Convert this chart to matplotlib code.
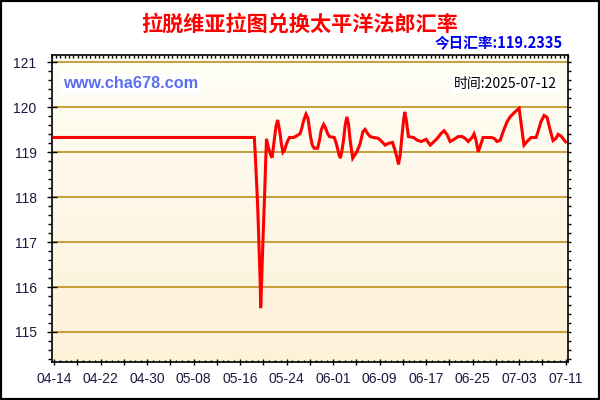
import matplotlib
matplotlib.use("Agg")
import matplotlib.pyplot as plt
import matplotlib.dates as mdates
from matplotlib.ticker import MultipleLocator, NullFormatter, FixedLocator
from matplotlib.patches import Rectangle
import numpy as np
import pandas as pd

title = "拉脱维亚拉图兑换太平洋法郎汇率"
today_label = "今日汇率:119.2335"
date_label = "时间:2025-07-12"
site_label = "www.cha678.com"

times = [
    "2025-04-14 00:00", "2025-05-18 11:00", "2025-05-18 17:00", "2025-05-18 23:00",
    "2025-05-19 03:00", "2025-05-19 07:00", "2025-05-19 11:00", "2025-05-19 13:00",
    "2025-05-19 17:00", "2025-05-19 21:00", "2025-05-20 01:00", "2025-05-20 05:00",
    "2025-05-20 09:00", "2025-05-20 13:00", "2025-05-20 15:00", "2025-05-20 22:00",
    "2025-05-21 05:00", "2025-05-21 12:00", "2025-05-21 16:00", "2025-05-21 22:00",
    "2025-05-22 04:00", "2025-05-22 11:00", "2025-05-22 15:00", "2025-05-22 21:00",
    "2025-05-23 02:00", "2025-05-23 09:00", "2025-05-23 16:00", "2025-05-23 23:00",
    "2025-05-24 06:00", "2025-05-24 12:00", "2025-05-25 05:00", "2025-05-25 19:00",
    "2025-05-26 08:00", "2025-05-26 15:00", "2025-05-26 22:00", "2025-05-27 08:00",
    "2025-05-27 16:00", "2025-05-27 22:00", "2025-05-28 03:00", "2025-05-28 10:00",
    "2025-05-28 18:00", "2025-05-29 08:00", "2025-05-29 16:00", "2025-05-29 23:00",
    "2025-05-30 09:00", "2025-05-30 17:00", "2025-05-31 01:00", "2025-05-31 09:00",
    "2025-06-01 05:00", "2025-06-01 13:00", "2025-06-01 20:00", "2025-06-02 01:00",
    "2025-06-02 06:00", "2025-06-02 12:00", "2025-06-02 19:00", "2025-06-03 02:00",
    "2025-06-03 09:00", "2025-06-03 16:00", "2025-06-03 23:00", "2025-06-04 09:00",
    "2025-06-05 02:00", "2025-06-05 16:00", "2025-06-06 03:00", "2025-06-06 12:00",
    "2025-06-06 22:00", "2025-06-07 09:00", "2025-06-07 23:00", "2025-06-08 19:00",
    "2025-06-09 09:00", "2025-06-09 23:00", "2025-06-10 13:00", "2025-06-11 05:00",
    "2025-06-11 13:00", "2025-06-11 23:00", "2025-06-12 06:00", "2025-06-12 13:00",
    "2025-06-12 20:00", "2025-06-13 03:00", "2025-06-13 08:00", "2025-06-13 14:00",
    "2025-06-13 23:00", "2025-06-14 20:00", "2025-06-15 11:00", "2025-06-16 04:00",
    "2025-06-17 00:00", "2025-06-17 17:00", "2025-06-18 09:00", "2025-06-18 22:00",
    "2025-06-19 14:00", "2025-06-20 02:00", "2025-06-20 15:00", "2025-06-21 03:00",
    "2025-06-21 20:00", "2025-06-22 12:00", "2025-06-23 05:00", "2025-06-23 17:00",
    "2025-06-24 06:00", "2025-06-24 22:00", "2025-06-25 06:00", "2025-06-25 14:00",
    "2025-06-25 23:00", "2025-06-26 07:00", "2025-06-26 19:00", "2025-06-28 04:00",
    "2025-06-28 17:00", "2025-06-29 05:00", "2025-06-29 18:00", "2025-06-30 06:00",
    "2025-06-30 22:00", "2025-07-01 11:00", "2025-07-02 03:00", "2025-07-03 00:00",
    "2025-07-03 08:00", "2025-07-03 20:00", "2025-07-04 09:00", "2025-07-05 01:00",
    "2025-07-05 22:00", "2025-07-06 06:00", "2025-07-06 18:00", "2025-07-07 07:00",
    "2025-07-07 19:00", "2025-07-08 08:00", "2025-07-08 20:00", "2025-07-09 08:00",
    "2025-07-09 17:00", "2025-07-10 05:00", "2025-07-11 00:00",
]
rates = [
    119.33, 119.33, 118.68, 118.01,
    117.43, 116.76, 116.12, 115.53,
    116.12, 116.82, 117.43, 118.01,
    118.68, 119.30, 119.24, 119.09,
    118.96, 118.88, 119.05, 119.31,
    119.57, 119.72, 119.61, 119.42,
    119.20, 119.00, 119.05, 119.18,
    119.27, 119.33, 119.33, 119.37,
    119.42, 119.54, 119.70, 119.85,
    119.76, 119.54, 119.35, 119.16,
    119.09, 119.09, 119.27, 119.50,
    119.62, 119.54, 119.42, 119.35,
    119.33, 119.20, 119.05, 118.94,
    118.87, 119.02, 119.27, 119.61,
    119.79, 119.61, 119.24, 118.87,
    119.01, 119.20, 119.46, 119.51,
    119.42, 119.35, 119.33, 119.31,
    119.24, 119.16, 119.20, 119.22,
    119.09, 118.90, 118.73, 118.94,
    119.35, 119.72, 119.90, 119.72,
    119.35, 119.33, 119.27, 119.24,
    119.29, 119.16, 119.24, 119.31,
    119.42, 119.48, 119.39, 119.24,
    119.29, 119.35, 119.35, 119.31,
    119.24, 119.33, 119.41, 119.27,
    119.01, 119.13, 119.33, 119.33,
    119.31, 119.24, 119.27, 119.46,
    119.68, 119.79, 119.88, 119.98,
    119.65, 119.16, 119.24, 119.33,
    119.33, 119.46, 119.68, 119.82,
    119.78, 119.50, 119.26, 119.31,
    119.40, 119.36, 119.2335,
]
x_tick_labels = ["04-14", "04-22", "04-30", "05-08", "05-16", "05-24",
                 "06-01", "06-09", "06-17", "06-25", "07-03", "07-11"]
y_ticks = [115, 116, 117, 118, 119, 120, 121]

t = pd.to_datetime(times)
start = pd.Timestamp("2025-04-14")

fig = plt.figure(figsize=(6, 4), dpi=100, facecolor="white")
ax = fig.add_axes([0.0862, 0.0957, 0.9472 - 0.0862, 0.8625 - 0.0957])

# gradient background
grad = np.linspace(0, 1, 256).reshape(-1, 1)
top_c = np.array([255, 254, 246]) / 255
bot_c = np.array([253, 241, 216]) / 255
img = top_c[None, None, :] * (1 - grad[:, :, None]) + bot_c[None, None, :] * grad[:, :, None]
ax.imshow(img, extent=[0, 1, 0, 1], transform=ax.transAxes, aspect="auto", zorder=0)

for yv in y_ticks:
    ax.axhline(yv, color="#B8860B", lw=1.1, zorder=1)

ax.plot(t, rates, color="#FF0000", lw=2.2, zorder=3, solid_joinstyle="miter")

ax.set_ylim(114.336, 121.167)
ax.set_xlim(start - pd.Timedelta(hours=9.6), start + pd.Timedelta(days=88.46))

label_font = "Liberation Sans"
ax.yaxis.set_major_locator(FixedLocator(y_ticks))
ax.yaxis.set_minor_locator(MultipleLocator(0.2))
ax.set_yticklabels([str(v) for v in y_ticks], fontsize=10, family=label_font, color="#1a1a40")
ax.tick_params(axis="y", which="major", direction="inout", length=7.9, width=1, pad=7, right=False)
ax.tick_params(axis="y", which="minor", direction="out", length=2.9, width=1, right=False)

major_dates = [start + pd.Timedelta(days=4 * i) for i in range(23)]
ax.xaxis.set_major_locator(FixedLocator(mdates.date2num(major_dates)))
ax.xaxis.set_minor_locator(mdates.DayLocator())
lbls = []
for i in range(23):
    lbls.append(x_tick_labels[i // 2] if i % 2 == 0 else "")
ax.set_xticklabels(lbls, fontsize=10, family=label_font, color="#1a1a40")
ax.tick_params(axis="x", which="major", direction="inout", length=4.3, width=1, pad=5.5, top=False)
ax.tick_params(axis="x", which="minor", direction="in", length=1.8, width=1, top=False)

for s in ax.spines.values():
    s.set_linewidth(1.2)
    s.set_color("black")

# right-side ticks
axr = ax.twinx()
axr.set_ylim(ax.get_ylim())
axr.yaxis.set_major_locator(MultipleLocator(0.2))
axr.yaxis.set_major_formatter(NullFormatter())
axr.tick_params(axis="y", direction="out", length=2.5, width=1)
# top ticks
axt = ax.twiny()
axt.set_xlim(0, 120)
axt.xaxis.set_major_locator(MultipleLocator(1))
axt.xaxis.set_major_formatter(NullFormatter())
axt.tick_params(axis="x", direction="in", length=1.8, width=1)
for a in (axr, axt):
    for s in a.spines.values():
        s.set_visible(False)

cjk = ["Noto Sans CJK SC", "DejaVu Sans"]
fig.text(0.5, 1 - 24 / 400, title, ha="center", va="center", fontsize=15.2,
         fontweight="bold", color="#FF0000", family=cjk)
fig.text(563 / 600, 1 - 43 / 400, today_label, ha="right", va="center", fontsize=10.5,
         fontweight="bold", color="#0000EE", family=cjk)

ax.text(63 / 600, 1 - 84 / 400, site_label, transform=fig.transFigure, ha="left", va="center",
        fontsize=11.7, fontweight="bold", color="#5A6EF0", family="Liberation Sans", zorder=4,
        bbox=dict(boxstyle="square,pad=0.15", fc="white", ec="none"))
ax.text(557 / 600, 1 - 84 / 400, date_label, transform=fig.transFigure, ha="right", va="center",
        fontsize=10, color="black", family=cjk, zorder=4,
        bbox=dict(boxstyle="square,pad=0.15", fc="white", ec="none"))

fig.patches.append(Rectangle((0, 0), 1, 1, transform=fig.transFigure, fill=False,
                             ec="black", lw=3, zorder=10))

fig.savefig("out.png", dpi=100, facecolor="white")
